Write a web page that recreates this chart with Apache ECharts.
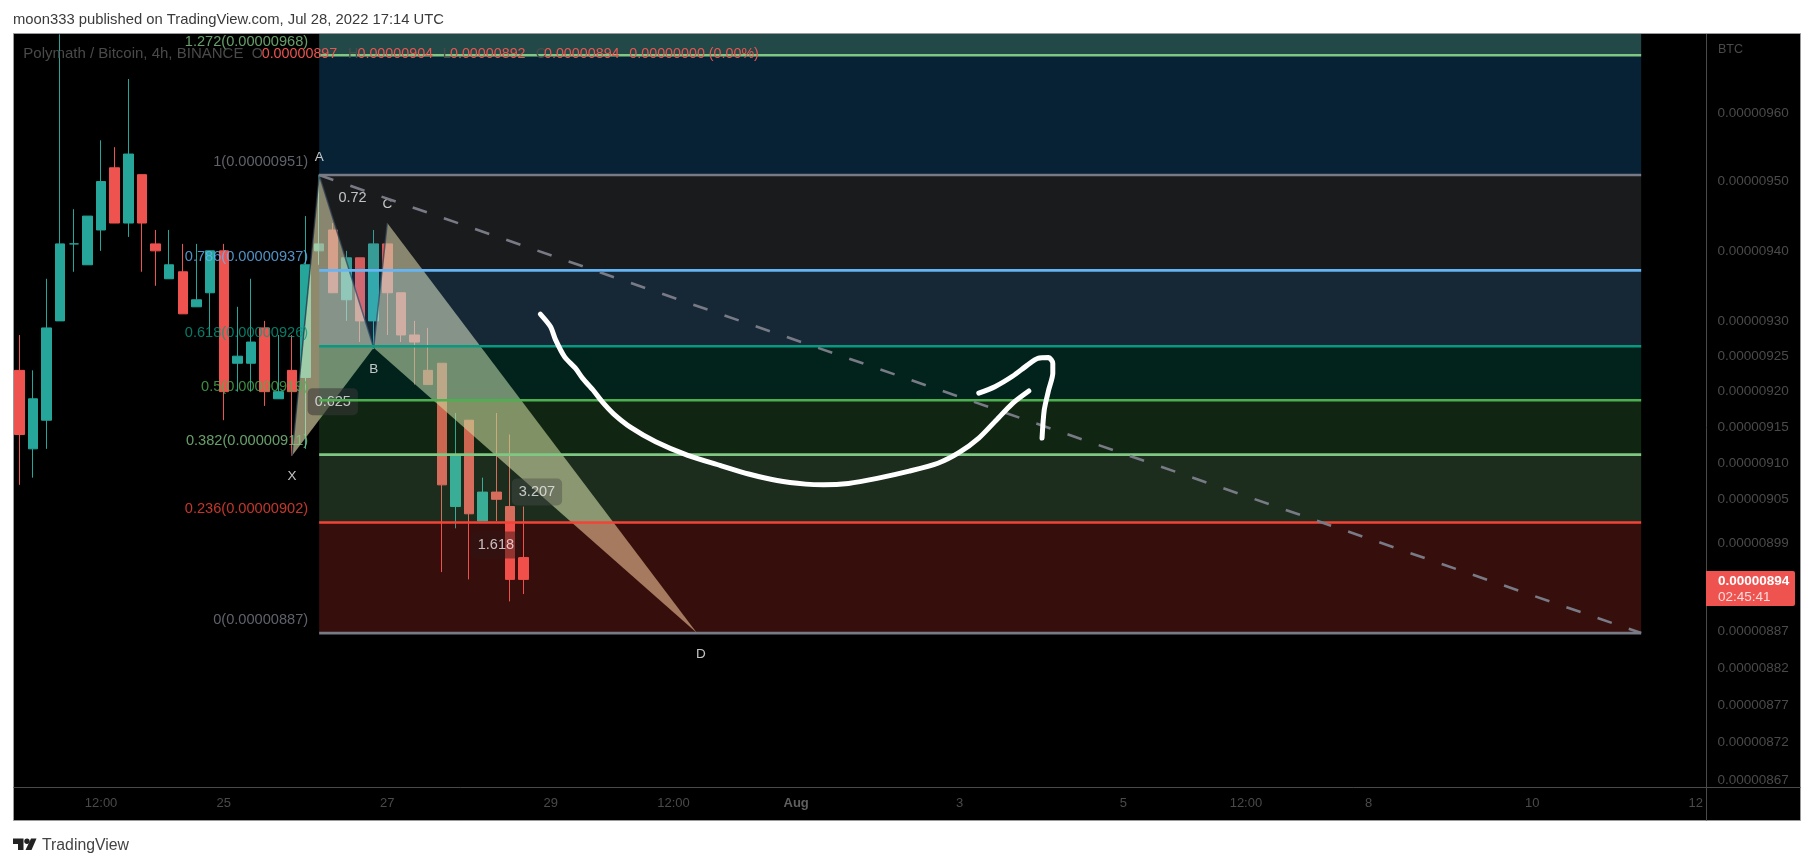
<!DOCTYPE html>
<html><head><meta charset="utf-8">
<style>html,body{margin:0;padding:0;background:#fff}#c{width:1814px;height:866px}</style>
<script src="https://cdn.jsdelivr.net/npm/echarts@6/dist/echarts.min.js"></script>
</head><body><div id="c"></div>
<script>
// prices are in units of 0.00000001 BTC
const candleOpen  = [923,912,916,930,941,938,943,952,944,951,941,936,937,932,934,940,924,924,929,919,923,922,940,943,933,939,930,941,934,928,923,924,904,916,902,906,904,897];
const candleClose = [914,919,929,941,941,945,950,944,954,944,940,938,931,933,940,920,925,927,920,920,920,938,941,934,939,930,941,934,928,927,921,907,911,903,906,905,894,894];
const candleLow   = [907,908,912,930,937,938,940,944,942,937,935,936,931,932,928,916,920,920,918,919,911,912,938,934,930,927,926,928,927,921,921,895,901,894,902,902,891,892];
const candleHigh  = [928,923,936,971.6,946,945,956,955,965,951,943,943,941,941,940,941,932,936,930,928,928,945,951,944,940,939,943,941,934,930,929,924,917,916,908,917,914,904];

const priceTicks = [960,950,940,930,925,920,915,910,905,899,887,882,877,872,867];
const timeTickIndex = [6,15,27,39,48,57,69,81,90,99,111,123];
const timeTickText = ['12:00','25','27','29','12:00','Aug','3','5','12:00','8','10','12'];
const slotCount = 124;

const fibRatio = ['1.272','1','0.786','0.618','0.5','0.382','0.236','0'];
const fibLevel = [968.5,950.95,937.2,926.4,918.8,911.2,901.8,886.7];
const fibShown = ['0.00000968','0.00000951','0.00000937','0.00000926','0.00000919','0.00000911','0.00000902','0.00000887'];
const fibColor = ['#81c784','#787b86','#64b5f6','#089981','#4caf50','#81c784','#f44336','#787b86'];
const fibStart = 22, fibEnd = 119;
const yMin = 866.1, yMax = 971.65;
const bandEdges = [yMax,968.5,950.95,937.2,926.4,918.8,911.2,901.8,886.7];
const bandColor = ['rgba(117,240,237,0.3)','rgba(33,150,243,0.22)','rgba(120,123,134,0.22)','rgba(100,181,246,0.22)','rgba(8,153,129,0.22)','rgba(76,175,80,0.22)','rgba(129,199,132,0.22)','rgba(244,67,54,0.22)'];

const trendX = [22,119];
const trendY = [950.95,886.7];

const patternName = ['X','A','B','C','D'];
const patternX = [20,22,26,27,49.72];
const patternY = [911,950.95,926.2,944,886.7];
const letterX = [20,22,26,27,50];
const letterY = [908.2,953.5,923.2,946.7,883.9];

const ratioText = ['0.72','0.625','3.207','1.618'];
const ratioX = [24.45,23,37.98,34.97];
const ratioY = [947.66,918.6,906,898.7];
const ratioBox = ['rgba(0,0,0,0)','rgba(56,56,56,0.7)','rgba(72,78,72,0.55)','rgba(45,20,20,0.6)'];

const brushAX = [38.23,38.97,39.35,40.01,40.8,41.32,42.11,42.76,43.6,44.86,46.69,49.05,51.41,53.51,55.6,57.7,59.01,60.84,62.94,65.3,67.4,68.97,70.4,71.58,72.9,74.07];
const brushAY = [930.97,929.2,927.3,924.9,923.3,921.9,920.2,918.6,916.9,915,913,911.1,909.7,908.5,907.6,907.1,907,907.2,907.9,908.9,910,911.5,913.5,915.8,918.4,920.1];
const brushBX = [70.4,71.58,72.9,73.94,74.73,75.52,75.83,75.83,75.52,75.2,75.04];
const brushBY = [919.8,920.7,922.2,923.7,924.7,924.8,924,922.6,920.2,917.4,913.5];

const UP='#26a69a', DOWN='#ef5350', FONT='"Liberation Sans",Arial,sans-serif';
const zip=(a,b)=>a.map((v,i)=>[v,b[i]]);
const slots=Array.from({length:slotCount},(_,i)=>String(i));
const tickMap={}; timeTickIndex.forEach((k,i)=>tickMap[k]=timeTickText[i]);

const chart=echarts.init(document.getElementById('c'),null,{renderer:'canvas'});
const txt=(x,y,t,fill,size,extra)=>({type:'text',z:50,silent:true,style:Object.assign({x,y,text:t,fill,font:`${size}px ${FONT}`,textVerticalAlign:'middle',verticalAlign:'middle'},extra||{})});
const ln=(x1,y1,x2,y2,c)=>({type:'line',z:40,silent:true,shape:{x1,y1,x2,y2},style:{stroke:c,lineWidth:1}});
const gfx=[
 {type:'rect',z:-10,silent:true,shape:{x:13.5,y:33.5,width:1787,height:787},style:{fill:'#000',stroke:'#9a9a9e',lineWidth:1}},
 ln(13.5,787.5,1800.5,787.5,'#4a4a4a'), ln(1706.5,34,1706.5,820.5,'#4a4a4a'),
 txt(13,20,'moon333 published on TradingView.com, Jul 28, 2022 17:14 UTC','#3a3a3a',14.8),
 txt(23.3,54,'Polymath / Bitcoin, 4h, BINANCE','#4a4a4a',15),
 txt(251.7,54,'O','#4a4a4a',14.3), txt(261.7,54,'0.00000897',DOWN,14.3),
 txt(348,54,'H','#4a4a4a',14.3), txt(357.5,54,'0.00000904',DOWN,14.3),
 txt(442.7,54,'L','#4a4a4a',14.3), txt(450,54,'0.00000892',DOWN,14.3),
 txt(535.7,54,'C','#4a4a4a',14.3), txt(544,54,'0.00000894',DOWN,14.3),
 txt(629.3,54,'0.00000000 (0.00%)',DOWN,14.3),
 txt(1718,50,'BTC','#4a4a4a',12.5),
 {type:'rect',z:45,silent:true,shape:{x:1706,y:571,width:89,height:35,r:[0,2,2,0]},style:{fill:DOWN}},
 txt(1718,581,'0.00000894','#fff',13.5,{font:`bold 13.5px ${FONT}`}),
 txt(1718,597,'02:45:41','#fcdcdc',13.5),
 {type:'polygon',z:50,silent:true,shape:{points:[[13,838.5],[23.5,838.5],[23.5,850],[18,850],[18,844],[13,844]]},style:{fill:'#222'}},
 {type:'circle',z:50,silent:true,shape:{cx:27,cy:841.2,r:2.7},style:{fill:'#222'}},
 {type:'polygon',z:50,silent:true,shape:{points:[[31,838.5],[36.5,838.5],[31.5,850],[25.5,850]]},style:{fill:'#222'}},
 txt(42,845.5,'TradingView','#444',15.8)
];

const bandRows=bandColor.map((c,i)=>[fibStart,fibEnd,bandEdges[i],bandEdges[i+1]]);
const triRows=[[0,1,2],[2,3,4]].map(t=>t.flatMap(k=>[patternX[k],patternY[k]]));
const hidden={symbol:'none',silent:true,animation:false,xAxisIndex:1,yAxisIndex:0};
const series=[
 {type:'candlestick',name:'price',xAxisIndex:0,yAxisIndex:0,z:1,silent:true,animation:false,barWidth:10,clip:true,
  data:candleOpen.map((o,i)=>[o,candleClose[i],candleLow[i],candleHigh[i]]),
  itemStyle:{color:UP,color0:DOWN,borderColor:UP,borderColor0:DOWN,borderWidth:1}},
 {type:'custom',name:'pattern',xAxisIndex:1,yAxisIndex:0,z:2,silent:true,animation:false,data:triRows,
  encode:{x:[0,2,4],y:[1,3,5]},
  renderItem:(p,api)=>({type:'polygon',shape:{points:[0,2,4].map(k=>api.coord([api.value(k),api.value(k+1)]))},
    style:{fill:'rgba(238,230,178,0.6)'}})},
 {type:'line',name:'legs',...hidden,z:3,data:zip(patternX.slice(0,4),patternY.slice(0,4)),lineStyle:{color:'rgba(30,50,70,0.75)',width:1.5}},
 {type:'custom',name:'bands',xAxisIndex:1,yAxisIndex:0,z:4,silent:true,animation:false,clip:true,data:bandRows,
  encode:{x:[0,1],y:[2,3]},
  renderItem:(p,api)=>{const a=api.coord([api.value(0),api.value(2)]),b=api.coord([api.value(1),api.value(3)]);
   return {type:'rect',shape:{x:a[0],y:a[1],width:b[0]-a[0],height:b[1]-a[1]},style:{fill:bandColor[p.dataIndex]}};}},
 {type:'scatter',name:'ratios',xAxisIndex:1,yAxisIndex:0,z:5,silent:true,animation:false,symbolSize:0,clip:false,
  data:zip(ratioX,ratioY).map((v,i)=>({value:v,label:{formatter:ratioText[i],backgroundColor:ratioBox[i]}})),
  label:{show:true,position:'inside',color:'#ececec',fontFamily:FONT,fontSize:14.5,padding:[6,7],borderRadius:5}},
 {type:'scatter',name:'letters',xAxisIndex:1,yAxisIndex:0,z:5,silent:true,animation:false,symbolSize:0,clip:false,
  data:zip(letterX,letterY).map((v,i)=>({value:v,label:{formatter:patternName[i]}})),
  label:{show:true,position:'inside',color:'#f2f2f2',fontFamily:FONT,fontSize:13.5}},
 {type:'scatter',name:'fibLabels',xAxisIndex:1,yAxisIndex:0,z:5,silent:true,animation:false,symbolSize:0,clip:false,
  data:fibLevel.map((v,i)=>({value:[fibStart,v],label:{formatter:fibRatio[i]+'('+fibShown[i]+')',color:fibColor[i]}})),
  label:{show:true,position:[-11,-13.5],align:'right',verticalAlign:'middle',fontFamily:FONT,fontSize:14.6}},
 ...fibLevel.map((v,i)=>({type:'line',name:'fib'+fibRatio[i],...hidden,z:6,data:[[fibStart,v],[fibEnd,v]],lineStyle:{color:fibColor[i],width:2.6}})),
 {type:'line',name:'trend',...hidden,z:7,data:zip(trendX,trendY),lineStyle:{color:'#787b86',width:2.6,type:[15,18]}},
 {type:'line',name:'brushA',...hidden,z:8,smooth:0.25,data:zip(brushAX,brushAY),lineStyle:{color:'#fff',width:5,cap:'round',join:'round'}},
 {type:'line',name:'brushB',...hidden,z:8,smooth:0.25,data:zip(brushBX,brushBY),lineStyle:{color:'#fff',width:5,cap:'round',join:'round'}}
];

chart.setOption({
 animation:false,backgroundColor:'#fff',
 grid:{left:12.5,top:34,width:1690,height:753,containLabel:false},
 xAxis:[
  {type:'category',data:slots,boundaryGap:true,axisLine:{show:false},axisTick:{show:false},splitLine:{show:false},
   axisLabel:{interval:(i)=>tickMap[i]!==undefined,formatter:(v)=>{const t=tickMap[+v];return t==='Aug'?'{b|Aug}':t;},
    color:'#4a4a4a',fontFamily:FONT,fontSize:13,margin:10,hideOverlap:false,rich:{b:{color:'#5f5f5f',fontFamily:FONT,fontSize:13,fontWeight:'bold'}}}},
  {type:'value',show:false,min:-0.5,max:slotCount-0.5,splitLine:{show:false}}
 ],
 yAxis:[{type:'log',logBase:10,min:yMin,max:yMax,position:'right',offset:3.4,axisLine:{show:false},axisTick:{show:false},splitLine:{show:false},
   axisLabel:{customValues:priceTicks,formatter:(v)=>'0.00000'+Math.round(v),color:'#4a4a4a',fontFamily:FONT,fontSize:13.5,margin:11.5,showMinLabel:true,showMaxLabel:true,hideOverlap:false}}],
 graphic:{elements:gfx},
 series
});
</script></body></html>
